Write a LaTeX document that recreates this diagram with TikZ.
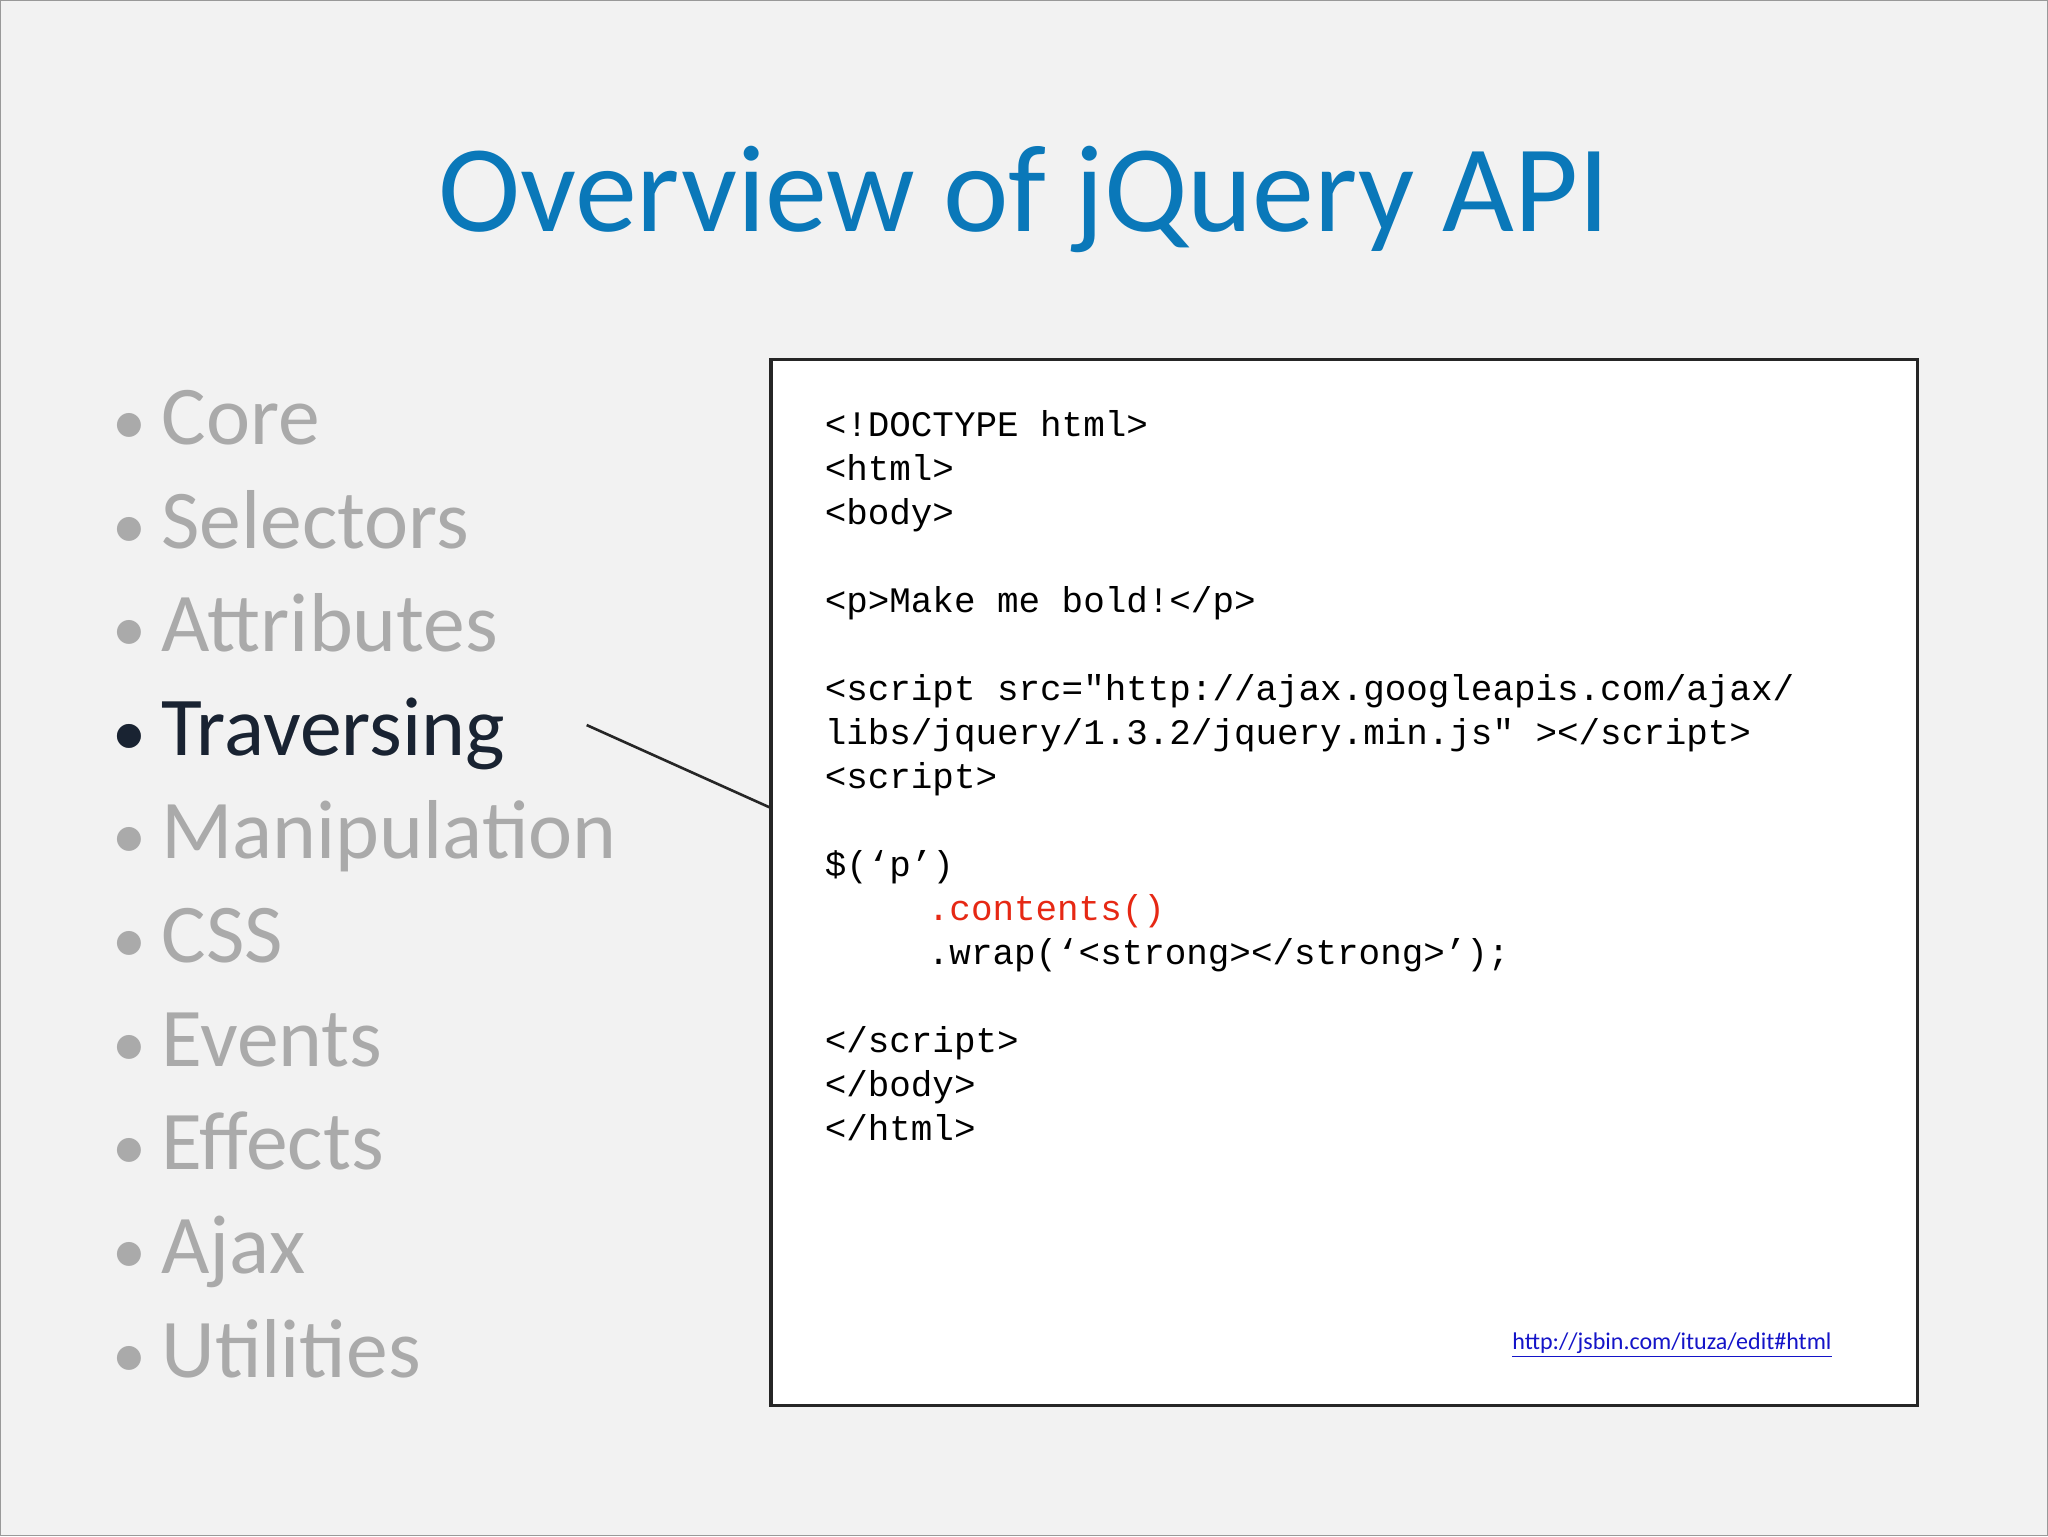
\documentclass[tikz,border=0pt]{standalone}
\usepackage{fontspec}
\setmainfont{Carlito}
\newfontfamily\codefont{Liberation Mono}
\definecolor{titleblue}{RGB}{10,120,185}
\definecolor{dimgray}{RGB}{170,170,170}
\definecolor{darktxt}{RGB}{25,35,50}
\definecolor{codered}{RGB}{230,40,20}
\definecolor{linkblue}{RGB}{20,20,200}
\tikzset{
  item/.style={anchor=base west,font=\fontsize{32}{38}\selectfont,text=dimgray,inner sep=0},
  codebox/.style={draw=black!85,line width=1.2pt,fill=white},
}
\begin{document}
\begin{tikzpicture}[x=0.5pt,y=-0.5pt]
\path[fill=black!5,draw=black!40] (0,0) rectangle (1568,1176);
\useasboundingbox (0,0) rectangle (1568,1176);
\node[font=\fontsize{47.5}{56}\selectfont,text=titleblue,anchor=base] (title) at (784,177) {Overview of jQuery API};
\foreach \t [count=\i from 0] in {Core,Selectors,Attributes,Traversing,Manipulation,CSS,Events,Effects,Ajax,Utilities}{
  \node[item] (it\i) at (85,{340+79.4*\i}) {{\fontsize{26}{30}\selectfont\textbullet}\hspace{6pt}\t};
}
\node[item,text=darktxt] at (85,{340+79.4*3}) {{\fontsize{26}{30}\selectfont\textbullet}\hspace{6pt}Traversing};
\node[codebox,minimum width=439pt,minimum height=400.5pt,anchor=north west,inner sep=0] (box) at (589,274) {};
\coordinate (ls) at (449,555);
\draw[line width=1pt,black!85] (ls) -- (box.west |- 0,618);
\node[anchor=north west,align=left,inner sep=0,font=\codefont\fontsize{13.75}{16.85}\selectfont] (code) at (631,314) {%
<!DOCTYPE html>\\
<html>\\
<body>\\
\mbox{}\\
<p>Make me bold!</p>\\
\mbox{}\\
<script src="http://ajax.googleapis.com/ajax/\\
libs/jquery/1.3.2/jquery.min.js" ></script>\\
<script>\\
\mbox{}\\
\$(‘p’)\\
\hspace*{39.5pt}\textcolor{codered}{.contents()}\\
\hspace*{39.5pt}.wrap(‘<strong></strong>’);\\
\mbox{}\\
</script>\\
</body>\\
</html>};
\node[anchor=base east,inner sep=0,font=\fontsize{9.2}{11}\selectfont,text=linkblue] (link) at (1403,1033) {\underline{http://jsbin.com/ituza/edit\#html}};
\end{tikzpicture}
\end{document}
